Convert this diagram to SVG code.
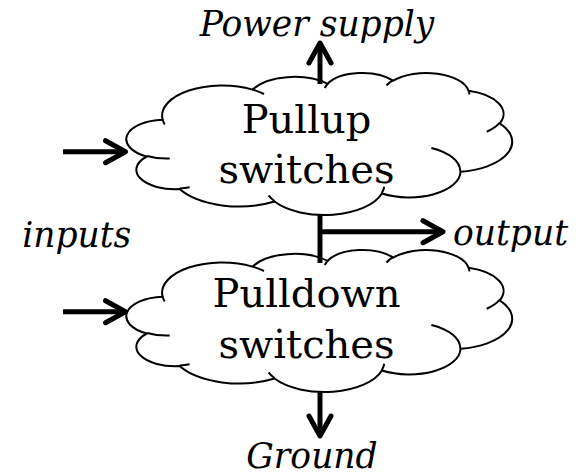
<svg xmlns="http://www.w3.org/2000/svg" width="580" height="472" viewBox="0 0 580 472">
  <style>
    .cloud { fill: #ffffff; stroke: #000000; stroke-width: 2; vector-effect: non-scaling-stroke; }
    .crease { fill: none; stroke: #000000; stroke-width: 2; vector-effect: non-scaling-stroke; }
    .wire { fill: none; stroke: #000000; stroke-width: 5; }
    .main { font-family: "DejaVu Serif", "Liberation Serif", serif; font-size: 40px; fill: #000000; text-anchor: middle; }
    .lbl { font-family: "DejaVu Serif", "Liberation Serif", serif; font-style: italic; font-size: 34.5px; fill: #000000; }
  </style>
  <defs>
    <marker id="head" markerUnits="userSpaceOnUse" markerWidth="50" markerHeight="50" viewBox="-35 -25 50 50" refX="0" refY="0" orient="auto" overflow="visible">
      <path d="M-20,-11 L0,0 L-20,11" fill="none" stroke="#000000" stroke-width="5" stroke-linejoin="round" stroke-linecap="round"/>
    </marker>
    <g id="cloudShape">
      <path class="cloud" d="M3900,14370 A6753,9190 0 0 1 14005,5202 A5333,7267 0 0 1 22457,3432 A4365,5945 0 0 1 29834,2479 A4857,6595 0 0 1 38319,5574 A5333,7273 0 0 1 41819,15458 A6775,9220 0 0 1 37406,30203 A5785,7867 0 0 1 28558,36813 A6752,9215 0 0 1 16483,39264 A7720,10543 0 0 1 5810,35478 A4360,5918 0 0 1 2117,25557 A4345,5945 0 0 1 3900,14370 Z"/>
      <path class="crease" d="M4693,26177 A4345,5945 0 0 1 2160,25380 M6928,34899 A4360,5918 0 0 1 5820,35280 M16478,39090 A6752,9215 0 0 1 15810,37350 M28827,34751 A6752,9215 0 0 1 28560,36660 M34129,22954 A5785,7867 0 0 1 37380,30090 M41798,15354 A5333,7273 0 0 1 40350,18030 M38324,5426 A4857,6595 0 0 1 38400,6690 M29078,3952 A4857,6595 0 0 1 29820,2341 M22141,4720 A4365,5945 0 0 1 22500,3331 M14000,5192 A6753,9190 0 0 1 15301,6542 M4127,15789 A6753,9190 0 0 1 3900,14371"/>
    </g>
  </defs>

  <g id="pullup">
    <use href="#cloudShape" transform="translate(128,72.5) scale(0.0088889,0.0032870)"/>
    <text class="main" x="306.5" y="133.3">Pullup</text>
    <text class="main" x="306.5" y="183.3">switches</text>
  </g>

  <g id="pulldown">
    <use href="#cloudShape" transform="translate(128,249.5) scale(0.0088889,0.0032870)"/>
    <text class="main" x="306.5" y="306.7">Pulldown</text>
    <text class="main" x="306.5" y="358.3">switches</text>
  </g>

  <g id="connectors">
    <path class="wire" d="M320,84 L320,43" marker-end="url(#head)"/>
    <path class="wire" d="M320,215 L320,263"/>
    <path class="wire" d="M320,231.7 L443,231.7" marker-end="url(#head)"/>
    <path class="wire" d="M320,392 L320,436" marker-end="url(#head)"/>
    <path class="wire" d="M63,151.7 L125.5,151.7" marker-end="url(#head)"/>
    <path class="wire" d="M63,311.7 L125.5,311.7" marker-end="url(#head)"/>
  </g>

  <g id="power-supply">
    <text class="lbl" x="317" y="36" text-anchor="middle">Power supply</text>
  </g>
  <g id="inputs">
    <text class="lbl" x="76.7" y="246.7" text-anchor="middle">inputs</text>
  </g>
  <g id="output">
    <text class="lbl" x="453" y="245">output</text>
  </g>
  <g id="ground">
    <text class="lbl" x="312" y="468" text-anchor="middle">Ground</text>
  </g>
</svg>
